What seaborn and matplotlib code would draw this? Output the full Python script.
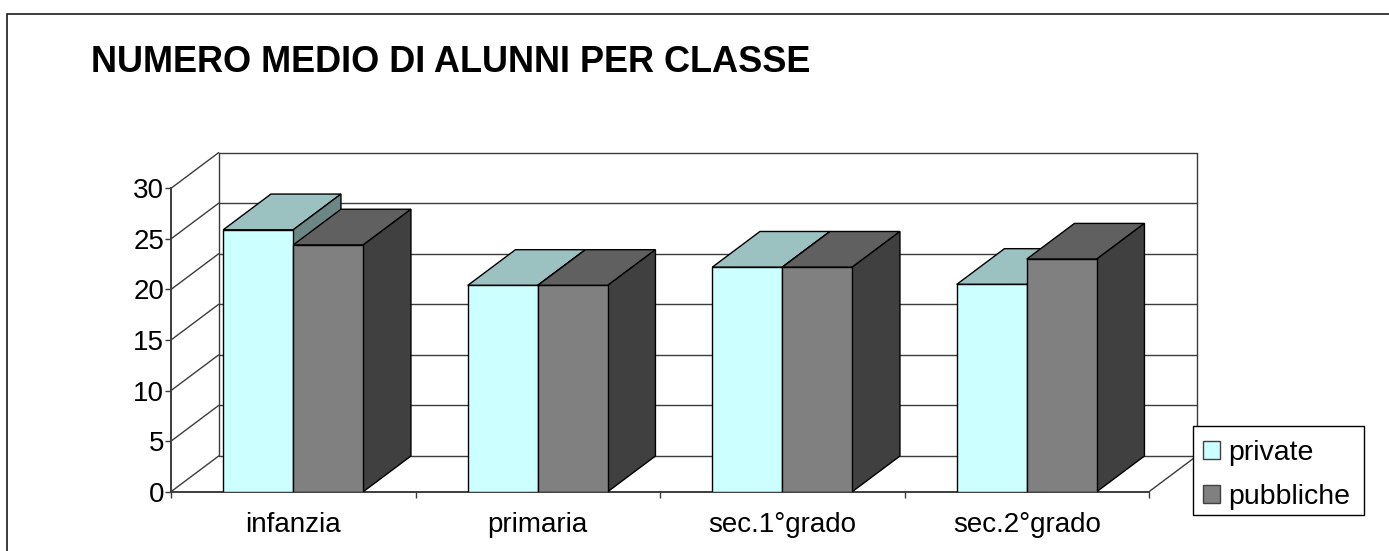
import pandas as pd
import matplotlib.pyplot as plt
import seaborn as sns
from matplotlib.patches import Polygon, Rectangle
from matplotlib.lines import Line2D

categories = ['infanzia', 'primaria', 'sec.1°grado', 'sec.2°grado']
series_names = ['private', 'pubbliche']
private = [25.9, 20.4, 22.2, 20.5]
pubbliche = [24.4, 20.4, 22.2, 23.0]
y_ticks = [0, 5, 10, 15, 20, 25, 30]

W, H = 1389, 551
line_col = '#3c3c3c'

sns.set_theme(style='white')
plt.rcParams['font.family'] = ['Liberation Sans', 'DejaVu Sans']

df = pd.DataFrame({
    'categoria': categories * 2,
    'tipo': ['private'] * 4 + ['pubbliche'] * 4,
    'alunni': private + pubbliche,
})

fig = plt.figure(figsize=(W / 100, H / 100), dpi=100, facecolor='white')
# axes box = front plane of the fake 3d chart
ax = fig.add_axes([171 / W, 1 - 491.7 / H, 978 / W, 303.4 / H])

front = {'private': '#ccffff', 'pubbliche': '#808080'}
sns.barplot(data=df, x='categoria', y='alunni', hue='tipo', order=categories,
            hue_order=series_names, palette=front, width=0.5726, gap=0,
            saturation=1, edgecolor='black', linewidth=1, legend=False, ax=ax)

ax.set_xlim(-0.5, 3.5)
ax.set_ylim(0, 30)
ax.set_xlabel('')
ax.set_ylabel('')

# depth of the 3d effect in data units
dx = 47.7 / 244.5
dy = 35.7 / 10.113

# walls and floor
xl, xr = ax.get_xlim()
for t in y_ticks:
    ax.plot([xl, xl + dx], [t, t + dy], color=line_col, lw=1, clip_on=False, zorder=1)
    ax.plot([xl + dx, xr + dx], [t + dy, t + dy], color=line_col, lw=1, clip_on=False, zorder=1)
ax.plot([xl + dx, xl + dx], [dy, 30 + dy], color=line_col, lw=1, clip_on=False, zorder=1)
ax.plot([xr + dx, xr + dx], [dy, 30 + dy], color=line_col, lw=1, clip_on=False, zorder=1)
ax.plot([xr, xr + dx], [0, dy], color=line_col, lw=1, clip_on=False, zorder=1)

# top and side faces
tops = ['#9bc1c0', '#606060']
sides = ['#6c8585', '#404040']
for i, cont in enumerate(ax.containers):
    for bar in cont:
        x0 = bar.get_x()
        x1 = x0 + bar.get_width()
        h = bar.get_height()
        bar.set_zorder(3.5 + i)
        ax.add_patch(Polygon([(x0, h), (x0 + dx, h + dy), (x1 + dx, h + dy), (x1, h)],
                             closed=True, fc=tops[i], ec='black', lw=1,
                             clip_on=False, zorder=3 + i))
        ax.add_patch(Polygon([(x1, 0), (x1 + dx, dy), (x1 + dx, h + dy), (x1, h)],
                             closed=True, fc=sides[i], ec='black', lw=1,
                             clip_on=False, zorder=3 + i))

sns.despine(ax=ax)
for s in ['left', 'bottom']:
    ax.spines[s].set_color(line_col)
    ax.spines[s].set_linewidth(1.4)
    ax.spines[s].set_zorder(2)

ax.set_yticks(y_ticks)
ax.set_xticks([-0.5, 0.5, 1.5, 2.5, 3.5])
ax.set_xticklabels([])
ax.set_xticks(range(4), labels=categories, minor=True)
ax.tick_params(axis='y', left=True, length=4, width=1, color=line_col, pad=1,
               labelsize=20, labelcolor='black')
ax.tick_params(axis='x', which='major', bottom=True, length=4, width=1, color=line_col)
ax.tick_params(axis='x', which='minor', bottom=False, length=0, pad=14.5,
               labelsize=20, labelcolor='black')

fig.text(91 / W, 1 - 72 / H, 'NUMERO MEDIO DI ALUNNI PER CLASSE', fontsize=26,
         fontweight='bold', color='black', ha='left', va='baseline')

# outer frame, only top and left are inside the picture
fig.add_artist(Line2D([6.5 / W, 6.5 / W, 1], [0, 1 - 14 / H, 1 - 14 / H], transform=fig.transFigure,
                      color='#1a1a1a', lw=1.2, solid_joinstyle='miter'))

# legend box, frame drawn apart so it can sit at the right size
fig.add_artist(Rectangle((1192.5 / W, 1 - 515.3 / H), 171 / W, 89.3 / H, transform=fig.transFigure,
                         fc='white', ec='black', lw=1, zorder=9))
handles = [Rectangle((0, 0), 1, 1, fc=front[n], ec='#404040', lw=1) for n in series_names]
leg = fig.legend(handles, series_names, loc='lower left',
                 bbox_to_anchor=(1202.5 / W, 1 - 510 / H), bbox_transform=fig.transFigure,
                 fontsize=20.5, frameon=False, borderaxespad=0,
                 handlelength=0.62, handleheight=0.62, handletextpad=0.28,
                 labelspacing=0.625, borderpad=0, labelcolor='black')
leg.set_zorder(10)

fig.savefig('out.png', dpi=100)
